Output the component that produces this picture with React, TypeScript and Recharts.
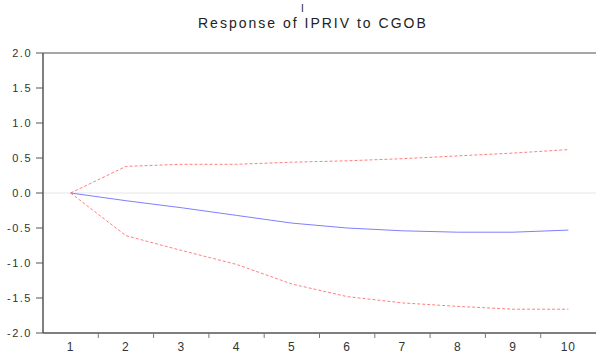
import { LineChart, Line, XAxis, YAxis, ReferenceLine } from 'recharts'

const periods = [1, 2, 3, 4, 5, 6, 7, 8, 9, 10]
const response = [0, -0.11, -0.21, -0.32, -0.43, -0.5, -0.54, -0.56, -0.56, -0.53]
const upperBand = [0, 0.38, 0.41, 0.41, 0.44, 0.46, 0.49, 0.53, 0.57, 0.62]
const lowerBand = [0, -0.61, -0.82, -1.02, -1.3, -1.48, -1.57, -1.62, -1.66, -1.66]
const yTicks = [-2, -1.5, -1, -0.5, 0, 0.5, 1, 1.5, 2]
const xTicks = [1, 1.5, 2, 2.5, 3, 3.5, 4, 4.5, 5, 5.5, 6, 6.5, 7, 7.5, 8, 8.5, 9, 9.5, 10]

const data = periods.map((p, i) => ({
  period: p,
  response: response[i],
  upper: upperBand[i],
  lower: lowerBand[i],
}))

const font = 'Liberation Sans, Arial, sans-serif'
const AXIS_Y = 333

function XTick(props: any) {
  const { x, payload } = props
  const v = payload.value
  if (Number.isInteger(v)) {
    return (
      <text x={x} y={AXIS_Y + 18} textAnchor="middle" fontSize={12} fill="#333" fontFamily={font} letterSpacing={1}>
        {v}
      </text>
    )
  }
  return <line x1={x} x2={x} y1={AXIS_Y} y2={AXIS_Y + 5} stroke="#777" />
}

export default function App() {
  return (
    <div style={{ position: 'absolute', left: 0, top: 0, width: 596, height: 356, background: '#fff' }}>
      <div
        style={{
          position: 'absolute',
          top: 3,
          left: 301,
          fontFamily: font,
          fontSize: 10,
          color: '#222',
        }}
      >
        I
      </div>
      <div
        style={{
          position: 'absolute',
          top: 15,
          left: 198,
          width: 250,
          whiteSpace: 'nowrap',
          fontFamily: font,
          fontSize: 14,
          letterSpacing: 2,
          color: '#222',
          lineHeight: '16px',
        }}
      >
        Response of IPRIV to CGOB
      </div>
      <LineChart width={596} height={356} data={data} margin={{ top: 53, right: 0, left: 0, bottom: 0 }}>
        <XAxis
          dataKey="period"
          type="number"
          domain={[0.5, 10.5]}
          ticks={xTicks}
          interval={0}
          height={23}
          tickLine={false}
          axisLine={{ stroke: '#555', strokeWidth: 1.5 }}
          tick={<XTick />}
        />
        <YAxis
          type="number"
          domain={[-2, 2]}
          ticks={yTicks}
          interval={0}
          width={43}
          tickSize={7}
          tickMargin={4}
          tickLine={{ stroke: '#555' }}
          axisLine={{ stroke: '#555', strokeWidth: 1.5 }}
          tickFormatter={(v: number) => v.toFixed(1)}
          tick={{ fontSize: 11, fill: '#333', fontFamily: font, letterSpacing: 1.5 }}
        />
        <ReferenceLine y={2} stroke="#888" strokeWidth={1.5} />
        <ReferenceLine y={0} stroke="#e6e6e6" />
        <Line
          dataKey="upper"
          stroke="#ff7f7f"
          strokeDasharray="3 2"
          strokeWidth={1}
          dot={false}
          isAnimationActive={false}
        />
        <Line
          dataKey="lower"
          stroke="#ff7f7f"
          strokeDasharray="3 2"
          strokeWidth={1}
          dot={false}
          isAnimationActive={false}
        />
        <Line dataKey="response" stroke="#7f7fff" strokeWidth={1} dot={false} isAnimationActive={false} />
      </LineChart>
    </div>
  )
}
